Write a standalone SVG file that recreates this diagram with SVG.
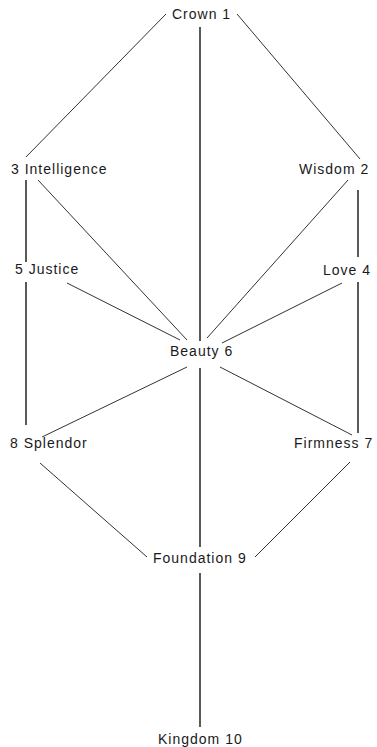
<svg xmlns="http://www.w3.org/2000/svg" width="377" height="747" viewBox="0 0 377 747">
<style>
.l{stroke:#333;stroke-width:1;fill:none}
.v{stroke:#222;stroke-width:1.5;fill:none}
text{font-family:"Liberation Sans",Arial,sans-serif;font-size:14px;letter-spacing:1px;fill:#1a1a1a}
</style>
<rect width="377" height="747" fill="#fff"/>
<g id="connectors">
<line class="l" x1="166" y1="14" x2="26" y2="157"/>
<line class="l" x1="237" y1="14" x2="360" y2="159"/>
<line class="v" x1="200" y1="27" x2="200" y2="341"/>
<line class="v" x1="200" y1="368" x2="200" y2="547"/>
<line class="v" x1="200" y1="573" x2="200" y2="727"/>
<line class="v" x1="26" y1="180" x2="26" y2="262"/>
<line class="v" x1="26" y1="282" x2="26" y2="425"/>
<line class="v" x1="358" y1="190" x2="358" y2="257"/>
<line class="v" x1="358" y1="282" x2="358" y2="433"/>
<line class="l" x1="38" y1="180" x2="187" y2="340"/>
<line class="l" x1="348" y1="180" x2="207" y2="338"/>
<line class="l" x1="67" y1="283" x2="180" y2="340"/>
<line class="l" x1="342" y1="283" x2="222" y2="343"/>
<line class="l" x1="187" y1="367" x2="42" y2="437"/>
<line class="l" x1="220" y1="367" x2="352" y2="435"/>
<line class="l" x1="40" y1="463" x2="147" y2="557"/>
<line class="l" x1="350" y1="462" x2="255" y2="557"/>
</g>
<g id="n1"><text x="172" y="19">Crown 1</text></g>
<g id="n2"><text x="299" y="174">Wisdom 2</text></g>
<g id="n3"><text x="11" y="174">3 Intelligence</text></g>
<g id="n4"><text x="323" y="275">Love 4</text></g>
<g id="n5"><text x="15" y="274">5 Justice</text></g>
<g id="n6"><text x="170" y="356">Beauty 6</text></g>
<g id="n7"><text x="294" y="448">Firmness 7</text></g>
<g id="n8"><text x="10" y="448">8 Splendor</text></g>
<g id="n9"><text x="153" y="563">Foundation 9</text></g>
<g id="n10"><text x="158" y="744">Kingdom 10</text></g>
</svg>
